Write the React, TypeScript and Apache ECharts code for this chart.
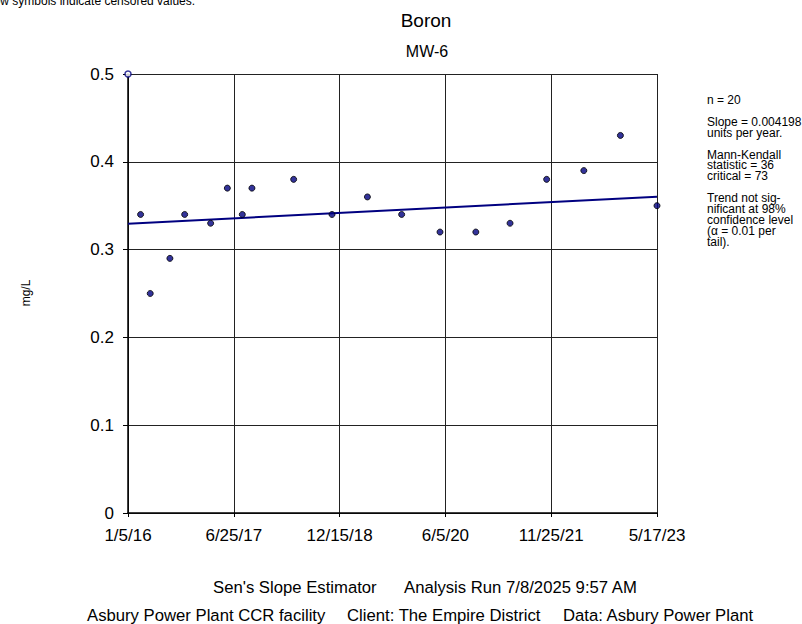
import React, { useEffect, useRef } from "react";
import * as echarts from "echarts";

const FONT = "Liberation Sans, Arial, sans-serif";

const baseDate = "2016-01-05";
const endDate = "2023-05-17";
const xTickLabels = ["1/5/16", "6/25/17", "12/15/18", "6/5/20", "11/25/21", "5/17/23"];

const sampleDates = [
  "2016-03-09", "2016-04-27", "2016-08-05", "2016-10-19", "2017-02-28",
  "2017-05-24", "2017-08-08", "2017-09-26", "2018-04-26", "2018-11-07",
  "2019-05-06", "2019-10-27", "2020-05-09", "2020-11-07", "2021-04-30",
  "2021-11-02", "2022-05-10", "2022-11-12", "2023-05-17",
];
const sampleValues = [
  0.34, 0.25, 0.29, 0.34, 0.33,
  0.37, 0.34, 0.37, 0.38, 0.34,
  0.36, 0.34, 0.32, 0.32, 0.33,
  0.38, 0.39, 0.43, 0.35,
];
const censoredDates = ["2016-01-05"];
const censoredValues = [0.5];

const trendDates = ["2016-01-05", "2023-05-17"];
const trendValues = [0.3294, 0.3603];

const yTicks = [0, 0.1, 0.2, 0.3, 0.4, 0.5];

const annotationLines = [
  "n = 20",
  "",
  "Slope = 0.004198",
  "units per year.",
  "",
  "Mann-Kendall",
  "statistic = 36",
  "critical = 73",
  "",
  "Trend not sig-",
  "nificant at 98%",
  "confidence level",
  "(\u03b1 = 0.01 per",
  "tail).",
];

const footerLine1 = ["Sen's Slope Estimator", "Analysis Run 7/8/2025 9:57 AM"];
const footerLine2 = ["Asbury Power Plant CCR facility", "Client: The Empire District", "Data: Asbury Power Plant"];

const dayMs = 86400000;
const toDays = (d: string) =>
  Math.round((Date.parse(d + "T00:00:00Z") - Date.parse(baseDate + "T00:00:00Z")) / dayMs);

export default function App() {
  const ref = useRef<HTMLDivElement>(null);
  useEffect(() => {
    document.body.style.margin = "0";
    if (!ref.current) return;
    const chart = echarts.init(ref.current, undefined, { renderer: "svg" });
    const span = toDays(endDate);
    const interval = span / (xTickLabels.length - 1);

    const annotationGraphics = annotationLines.map((t, i) => ({
      type: "text",
      x: 707,
      y: 100 + i * 10.9,
      style: { text: t, font: `12px ${FONT}`, fill: "#000", textVerticalAlign: "middle" },
    }));

    const footerX1 = [213, 404];
    const footerX2 = [87, 347, 563];
    const footerFont = `16.7px ${FONT}`;
    const footerGraphics = [
      ...footerLine1.map((t, i) => ({
        type: "text",
        x: footerX1[i],
        y: 587,
        style: { text: t, font: footerFont, fill: "#000", textVerticalAlign: "middle" },
      })),
      ...footerLine2.map((t, i) => ({
        type: "text",
        x: footerX2[i],
        y: 615,
        style: { text: t, font: footerFont, fill: "#000", textVerticalAlign: "middle" },
      })),
    ];

    chart.setOption({
      animation: false,
      backgroundColor: "#fff",
      grid: { left: 128, right: 145, top: 74, bottom: 111, containLabel: false },
      xAxis: {
        type: "value",
        min: 0,
        max: span,
        interval,
        axisLine: { show: true, lineStyle: { color: "#000", width: 1.5 } },
        axisTick: { show: true, length: 4, lineStyle: { color: "#000" } },
        splitLine: { show: true, lineStyle: { color: "#222", width: 1 } },
        axisLabel: {
          margin: 14,
          fontFamily: FONT,
          fontSize: 17,
          color: "#000",
          formatter: (v: number) => xTickLabels[Math.round(v / interval)] ?? "",
        },
      },
      yAxis: {
        type: "value",
        min: yTicks[0],
        max: yTicks[yTicks.length - 1],
        interval: 0.1,
        axisLine: { show: true, lineStyle: { color: "#000", width: 1.5 } },
        axisTick: { show: true, length: 5, lineStyle: { color: "#000" } },
        splitLine: { show: true, lineStyle: { color: "#222", width: 1 } },
        axisLabel: {
          margin: 14,
          fontFamily: FONT,
          fontSize: 17,
          color: "#000",
          formatter: (v: number) => String(Math.round(v * 10) / 10),
        },
      },
      series: [
        {
          type: "line",
          data: trendDates.map((d, i) => [toDays(d), trendValues[i]]),
          symbol: "none",
          lineStyle: { color: "#000080", width: 2 },
          z: 2,
        },
        {
          type: "scatter",
          data: sampleDates.map((d, i) => [toDays(d), sampleValues[i]]),
          symbol: "circle",
          symbolSize: 6,
          itemStyle: { color: "#000080", borderColor: "#000", borderWidth: 1 },
          z: 3,
        },
        {
          type: "scatter",
          data: censoredDates.map((d, i) => [toDays(d), censoredValues[i]]),
          symbol: "circle",
          symbolSize: 6,
          itemStyle: { color: "#fff", borderColor: "#000080", borderWidth: 1.5 },
          z: 4,
        },
      ],
      graphic: [
        {
          type: "text",
          left: -27,
          top: -5,
          style: { text: "Hollow symbols indicate censored values.", font: `12px ${FONT}`, fill: "#000" },
        },
        {
          type: "text",
          x: 426,
          y: 20,
          style: { text: "Boron", font: `19px ${FONT}`, fill: "#000", textAlign: "center", textVerticalAlign: "middle" },
        },
        {
          type: "text",
          x: 427,
          y: 51,
          style: { text: "MW-6", font: `16px ${FONT}`, fill: "#000", textAlign: "center", textVerticalAlign: "middle" },
        },
        {
          type: "text",
          x: 26,
          y: 293,
          rotation: Math.PI / 2,
          style: { text: "mg/L", font: `12px ${FONT}`, fill: "#000", textAlign: "center", textVerticalAlign: "middle" },
        },
        ...annotationGraphics,
        ...footerGraphics,
      ],
    });
    return () => chart.dispose();
  }, []);
  return <div ref={ref} style={{ width: 802, height: 624 }} />;
}
